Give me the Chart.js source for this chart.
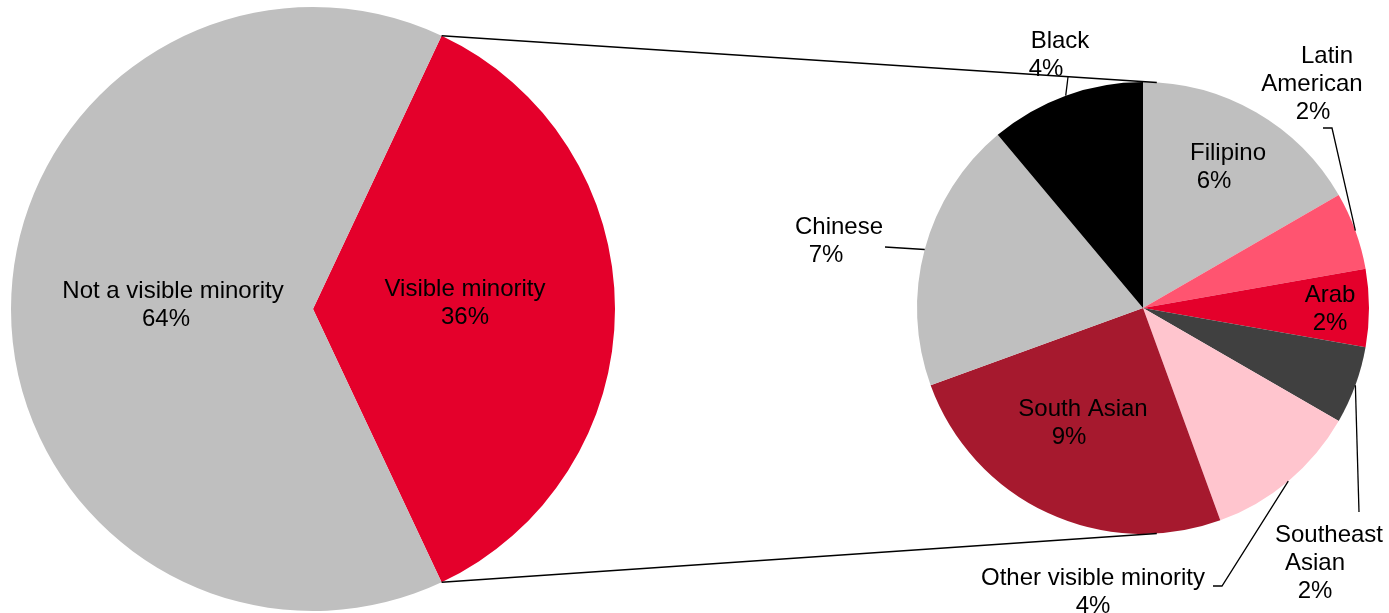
<!DOCTYPE html>
<html lang="en">
<head>
<meta charset="UTF-8">
<title>Visible minority population</title>
<script src="https://cdn.jsdelivr.net/npm/chart.js"></script>
<style>
  body { margin: 0; background: #fff; }
  #wrap { position: relative; width: 1389px; height: 613px; }
  #wrap canvas { position: absolute; left: 0; top: 0; }
</style>
</head>
<body>
<div id="wrap">
  <canvas id="mainPie" width="1389" height="613"></canvas>
  <canvas id="subPie" width="1389" height="613"></canvas>
</div>
<script>
// whole population split
const mainLabels = ['Visible minority', 'Not a visible minority'];
const mainValues = [36, 64];
const mainColors = ['#E4002B', '#BFBFBF'];

// breakdown of the visible minority share (percent of total)
const subLabels = ['Filipino', 'Latin American', 'Arab', 'Southeast Asian',
                   'Other visible minority', 'South Asian', 'Chinese', 'Black'];
const subValues = [6, 2, 2, 2, 4, 9, 7, 4];
const subColors = ['#BFBFBF', '#FF5470', '#E4002B', '#404040',
                   '#FFC5CE', '#A6192E', '#BFBFBF', '#000000'];

const FONT = '24px "Liberation Sans", Arial, sans-serif';
const LINE_H = 28;
const CONNECT_ANGLE = 3.5; // degrees right of top where the connectors meet the small pie

// label spots relative to the pie centre: dx = line centre, dy = first baseline
const mainPlacement = {
  'Visible minority':       { dx: 152, dy: -13 },
  'Not a visible minority': { dx: -140, dy: -11, shift: [0, -7] }
};
const subPlacement = {
  'Filipino':               { dx: 85, dy: -148, shift: [0, -14] },
  'Latin American':         { dx: 169, dy: -245, wrap: true, shift: [15, 0, 1],
                              leader: [[180, -180], [189, -180]] },
  'Arab':                   { dx: 187, dy: -6 },
  'Southeast Asian':        { dx: 172, dy: 234, wrap: true, shift: [14, 0, 0],
                              leader: [[216, 204]] },
  'Other visible minority': { dx: -50, dy: 277, leader: [[70, 278], [79, 278]] },
  'South Asian':            { dx: -60, dy: 108, shift: [0, -14] },
  'Chinese':                { dx: -304, dy: -74, shift: [0, -13], leader: [[-258, -61]] },
  'Black':                  { dx: -83, dy: -260, shift: [0, -14], leader: [[-75, -231]] }
};

function labelPlugin(labels, values, placement) {
  return {
    id: 'sliceLabels',
    afterDatasetsDraw(chart) {
      const ctx = chart.ctx;
      const arcs = chart.getDatasetMeta(0).data;
      ctx.save();
      ctx.font = FONT;
      ctx.fillStyle = '#000';
      ctx.strokeStyle = '#000';
      ctx.lineWidth = 1.3;
      ctx.textAlign = 'center';
      ctx.textBaseline = 'alphabetic';
      arcs.forEach((arc, i) => {
        const p = placement[labels[i]];
        const lines = p.wrap ? labels[i].split(' ') : [labels[i]];
        lines.push(values[i] + '%');
        lines.forEach((t, k) => {
          const s = p.shift ? (p.shift[k] || 0) : 0;
          ctx.fillText(t, arc.x + p.dx + s, arc.y + p.dy + k * LINE_H);
        });
        if (p.leader) {
          // leader line from the label to the middle of the slice's outer edge
          const mid = (arc.startAngle + arc.endAngle) / 2;
          ctx.beginPath();
          ctx.moveTo(arc.x + p.leader[0][0], arc.y + p.leader[0][1]);
          p.leader.slice(1).forEach(pt => ctx.lineTo(arc.x + pt[0], arc.y + pt[1]));
          ctx.lineTo(arc.x + arc.outerRadius * Math.cos(mid), arc.y + arc.outerRadius * Math.sin(mid));
          ctx.stroke();
        }
      });
      ctx.restore();
    }
  };
}

// big pie, visible minority slice centred on the right
const mainTotal = mainValues.reduce((a, b) => a + b, 0);
const mainChart = new Chart(document.getElementById('mainPie'), {
  type: 'pie',
  data: {
    labels: mainLabels,
    datasets: [{ data: mainValues, backgroundColor: mainColors, borderWidth: 0 }]
  },
  options: {
    responsive: false,
    animation: false,
    rotation: 90 - (mainValues[0] / mainTotal) * 180,
    layout: { padding: { left: 11, top: 7, right: 774, bottom: 2 } },
    plugins: { legend: { display: false }, tooltip: { enabled: false } }
  },
  plugins: [labelPlugin(mainLabels, mainValues, mainPlacement)]
});

// lines joining the visible minority slice to the breakdown pie
const connectors = {
  id: 'connectors',
  afterDraw(chart) {
    const vm = mainChart.getDatasetMeta(0).data[0];
    const sub = chart.getDatasetMeta(0).data[0];
    const a = CONNECT_ANGLE * Math.PI / 180;
    const ex = sub.x + sub.outerRadius * Math.sin(a);
    const ctx = chart.ctx;
    ctx.save();
    ctx.strokeStyle = '#000';
    ctx.lineWidth = 1.5;
    ctx.beginPath();
    ctx.moveTo(vm.x + vm.outerRadius * Math.cos(vm.startAngle), vm.y + vm.outerRadius * Math.sin(vm.startAngle));
    ctx.lineTo(ex, sub.y - sub.outerRadius * Math.cos(a));
    ctx.moveTo(vm.x + vm.outerRadius * Math.cos(vm.endAngle), vm.y + vm.outerRadius * Math.sin(vm.endAngle));
    ctx.lineTo(ex, sub.y + sub.outerRadius * Math.cos(a));
    ctx.stroke();
    ctx.restore();
  }
};

const subChart = new Chart(document.getElementById('subPie'), {
  type: 'pie',
  data: {
    labels: subLabels,
    datasets: [{ data: subValues, backgroundColor: subColors, borderWidth: 0 }]
  },
  options: {
    responsive: false,
    animation: false,
    rotation: 0,
    layout: { padding: { left: 917, top: 82, right: 20, bottom: 79 } },
    plugins: { legend: { display: false }, tooltip: { enabled: false } }
  },
  plugins: [labelPlugin(subLabels, subValues, subPlacement), connectors]
});
</script>
</body>
</html>
